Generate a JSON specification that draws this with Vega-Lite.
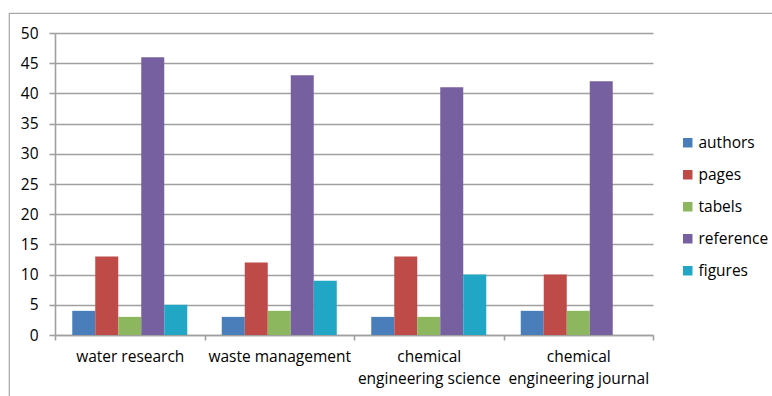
{
  "$schema": "https://vega.github.io/schema/vega-lite/v6.json",
  "autosize": {"type": "none"},
  "padding": {"left": 9, "top": 13, "right": 0, "bottom": 0},
  "width": 764,
  "height": 384,
  "background": "white",
  "config": {
    "view": {"stroke": "#a6a6a6", "strokeWidth": 1.2},
    "font": "Open Sans",
    "axis": {
      "labelFont": "Open Sans",
      "labelFontSize": 15.5,
      "labelColor": "#000000",
      "domainColor": "#a0a0a0",
      "domainWidth": 1.6,
      "tickColor": "#a0a0a0",
      "tickWidth": 1.6,
      "gridColor": "#a0a0a0",
      "gridWidth": 1.6
    },
    "legend": {
      "labelFont": "Open Sans",
      "labelFontSize": 15.5,
      "labelColor": "#000000",
      "padding": 0
    }
  },
  "data": {
    "values": [
      {"journal": "water research", "metric": "authors", "value": 4},
      {"journal": "water research", "metric": "pages", "value": 13},
      {"journal": "water research", "metric": "tabels", "value": 3},
      {"journal": "water research", "metric": "reference", "value": 46},
      {"journal": "water research", "metric": "figures", "value": 5},
      {"journal": "waste management", "metric": "authors", "value": 3},
      {"journal": "waste management", "metric": "pages", "value": 12},
      {"journal": "waste management", "metric": "tabels", "value": 4},
      {"journal": "waste management", "metric": "reference", "value": 43},
      {"journal": "waste management", "metric": "figures", "value": 9},
      {"journal": "chemical engineering science", "metric": "authors", "value": 3},
      {"journal": "chemical engineering science", "metric": "pages", "value": 13},
      {"journal": "chemical engineering science", "metric": "tabels", "value": 3},
      {"journal": "chemical engineering science", "metric": "reference", "value": 41},
      {"journal": "chemical engineering science", "metric": "figures", "value": 10},
      {"journal": "chemical engineering journal", "metric": "authors", "value": 4},
      {"journal": "chemical engineering journal", "metric": "pages", "value": 10},
      {"journal": "chemical engineering journal", "metric": "tabels", "value": 4},
      {"journal": "chemical engineering journal", "metric": "reference", "value": 42},
      {"journal": "chemical engineering journal", "metric": "figures", "value": 0}
    ]
  },
  "mark": {"type": "bar"},
  "encoding": {
    "x": {
      "field": "journal",
      "type": "nominal",
      "sort": null,
      "scale": {"range": [46, 644], "paddingInner": 0, "paddingOuter": 0},
      "axis": {
        "title": null,
        "labelAngle": 0,
        "offset": -62,
        "tickBand": "extent",
        "tickSize": 5,
        "labelPadding": 9,
        "labelLineHeight": 22,
        "labelExpr": "indexof(datum.label, 'chemical ') == 0 ? ['chemical', slice(datum.label, 9)] : datum.label",
        "grid": false
      }
    },
    "xOffset": {
      "field": "metric",
      "type": "nominal",
      "sort": ["authors", "pages", "tabels", "reference", "figures"],
      "scale": {"paddingInner": 0, "paddingOuter": 0.75}
    },
    "y": {
      "field": "value",
      "type": "quantitative",
      "scale": {"domain": [0, 50], "range": [322, 20], "nice": false},
      "axis": {
        "title": null,
        "values": [0, 5, 10, 15, 20, 25, 30, 35, 40, 45, 50],
        "offset": -46,
        "tickSize": 6,
        "labelPadding": 11,
        "grid": true
      }
    },
    "color": {
      "field": "metric",
      "type": "nominal",
      "sort": ["authors", "pages", "tabels", "reference", "figures"],
      "scale": {
        "domain": ["authors", "pages", "tabels", "reference", "figures"],
        "range": ["#4a7ebb", "#be4b48", "#8db75e", "#77609f", "#22a6c5"]
      },
      "legend": {
        "title": null,
        "orient": "none",
        "legendX": 671,
        "legendY": 122,
        "symbolType": "square",
        "symbolSize": 90,
        "symbolStrokeWidth": 0,
        "labelOffset": 3,
        "rowPadding": 15
      }
    }
  }
}
